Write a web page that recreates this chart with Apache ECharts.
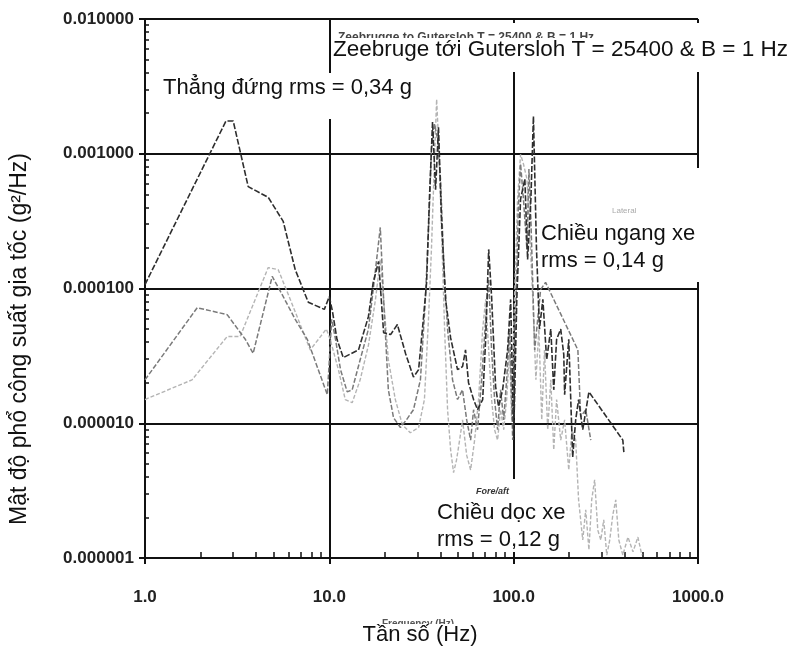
<!DOCTYPE html>
<html>
<head>
<meta charset="utf-8">
<script src="https://cdn.jsdelivr.net/npm/echarts@6/dist/echarts.min.js"></script>
<style>
html,body{margin:0;padding:0;background:#fff;}
#chart{width:792px;height:655px;}
</style>
</head>
<body>
<div id="chart"></div>
<script>
// ---- Data (frequency in Hz, PSD in g^2/Hz) ----
var vertFreq = [1.0,2.75,3.01,3.63,4.66,5.62,6.53,7.69,9.39,10.0,10.4,11.0,11.9,14.4,16.3,17.3,18.5,19.7,21.5,23.4,25.9,28.6,30.5,32.0,33.7,34.9,36.3,37.7,39.1,40.6,42.7,45.5,49.6,52.8,54.8,56.9,60.6,63.7,67.9,70.5,73.2,75.9,79.8,82.8,87.1,92.7,96.3,100,104,109,115,119,124,128,133,138,144,151,159,165,171,180,187,189,199,209,217,225,237,256,391,396];
var vertPsd = [1.07e-4,1.75e-3,1.75e-3,5.7e-4,4.75e-4,3.15e-4,1.38e-4,7.9e-5,7.0e-5,8.7e-5,6.75e-5,4.2e-5,3.07e-5,3.5e-5,6.2e-5,1.11e-4,1.59e-4,4.7e-5,4.55e-5,5.4e-5,3.3e-5,2.2e-5,2.5e-5,5.0e-5,1.11e-4,4.6e-4,1.72e-3,5.4e-4,1.57e-3,3.26e-4,8.3e-5,4.3e-5,2.5e-5,2.63e-5,3.5e-5,2.0e-5,1.5e-5,1.26e-5,1.5e-5,4.2e-5,1.95e-4,8.7e-5,1.87e-5,1.33e-5,1.77e-5,3.5e-5,8.3e-5,7.9e-6,8.3e-5,4.6e-4,6.5e-4,1.64e-4,4.6e-4,1.9e-3,1.95e-4,5.0e-5,8.3e-5,2.96e-5,5.0e-5,1.77e-5,4.2e-5,5.0e-5,3.23e-5,1.63e-5,4.2e-5,5.6e-6,1.06e-5,1.5e-5,8.95e-6,1.71e-5,7.5e-6,6.1e-6];

var latFreq = [1.0,1.92,2.79,3.50,3.86,4.90,5.55,6.53,7.59,9.75,10.3,10.8,11.5,12.5,13.3,14.7,16.3,17.3,18.9,19.7,20.9,22.3,24.3,26.2,28.6,31.2,33.2,34.9,35.8,37.2,38.6,40.1,41.7,43.8,46.6,49.6,52.8,55.6,58.4,60.6,63.7,67.0,70.5,73.2,75.9,78.8,81.8,84.9,88.3,91.6,95.1,98.8,103,106,109,113,118,121,124,130,135,140,149,223,231,246,262];
var latPsd = [2.1e-5,7.2e-5,6.4e-5,4.2e-5,3.3e-5,1.23e-4,9.0e-5,5.9e-5,4.2e-5,1.63e-5,5.9e-5,4.2e-5,2.5e-5,1.71e-5,1.77e-5,2.96e-5,5.0e-5,9.8e-5,2.84e-4,8.3e-5,1.77e-5,1.1e-5,9.3e-6,1.06e-5,1.26e-5,2.1e-5,8.3e-5,3.9e-4,1.08e-3,1.66e-3,1.3e-3,6.5e-4,1.64e-4,5.0e-5,2.1e-5,1.5e-5,1.77e-5,1.06e-5,7.5e-6,1.26e-5,8.95e-6,2.1e-5,5.9e-5,1.17e-4,3.5e-5,1.5e-5,8.95e-6,1.77e-5,1.06e-5,2.1e-5,5.0e-5,7.5e-6,8.3e-5,3.9e-4,8.4e-4,4.6e-4,1.95e-4,7.7e-4,3.26e-4,3.5e-5,5.9e-5,9.8e-5,1.11e-4,3.5e-5,1.12e-5,1.26e-5,7.5e-6];

var longFreq = [1.0,1.80,2.79,3.28,4.66,5.28,6.14,7.88,9.63,10.1,11.2,12.2,13.3,14.7,16.3,17.8,18.9,19.7,20.9,22.8,24.9,27.5,30.5,32.8,34.5,35.8,37.2,38.2,39.1,40.6,42.2,43.8,45.5,47.2,49.0,50.9,52.8,55.6,58.4,61.4,64.5,67.9,70.5,73.2,75.9,78.8,81.8,84.9,88.3,91.6,95.1,97.5,101,105,109,113,118,122,127,132,137,142,147,153,159,165,171,180,189,199,207,217,225,237,246,256,265,275,286,297,308,320,332,345,358,372,391,417,444,472,496];
var longPsd = [1.5e-5,2.1e-5,4.4e-5,4.4e-5,1.43e-4,1.38e-4,8.3e-5,3.5e-5,5.0e-5,4.2e-5,2.5e-5,1.5e-5,1.42e-5,2.1e-5,3.8e-5,8.3e-5,1.64e-4,8.3e-5,2.96e-5,1.5e-5,9.75e-6,8.5e-6,9.3e-6,1.5e-5,5.9e-5,1.95e-4,9.1e-4,2.54e-3,1.28e-3,2.75e-4,5.0e-5,1.26e-5,6.35e-6,4.3e-6,5.35e-6,7.5e-6,1.06e-5,5.8e-6,4.5e-6,7.5e-6,1.5e-5,5.0e-5,8.3e-5,3.5e-5,1.5e-5,8.95e-6,7.5e-6,1.26e-5,8.95e-6,1.5e-5,3.5e-5,1.06e-5,8.3e-5,4.6e-4,9.9e-4,8.4e-4,6.5e-4,2.75e-4,8.3e-5,2.1e-5,5.0e-5,1.06e-5,3.5e-5,8.95e-6,2.1e-5,6.35e-6,1.5e-5,7.5e-6,1.06e-5,4.5e-6,8.95e-6,7.5e-6,2.7e-6,1.36e-6,2.28e-6,1.15e-6,2.7e-6,3.8e-6,1.61e-6,1.36e-6,1.92e-6,1.05e-6,1.36e-6,2.09e-6,2.7e-6,1.36e-6,1.05e-6,1.43e-6,1.11e-6,1.43e-6,1.05e-6];

// ---- Axis ticks / texts ----
var xMajor = [1, 10, 100, 1000];
var xMinor = [2,3,4,5,6,7,8,9,20,30,40,50,60,70,80,90,200,300,400,500,600,700,800,900];
var yMajor = [1e-6, 1e-5, 1e-4, 1e-3, 1e-2];
var yMinor = [];
[1e-6,1e-5,1e-4,1e-3].forEach(function(b){ for (var k=2;k<=9;k++) yMinor.push(+(b*k).toPrecision(3)); });

var titleText = 'Zeebruge tới Gutersloh T = 25400 & B = 1 Hz';
var titleOld = 'Zeebrugge to Gutersloh T = 25400 & B = 1 Hz';
var vertLabel = 'Thẳng đứng rms = 0,34 g';
var latLabel1 = 'Chiều ngang xe', latLabel2 = 'rms = 0,14 g', latOld = 'Lateral';
var longLabel1 = 'Chiều dọc xe', longLabel2 = 'rms = 0,12 g', longOld = 'Fore/aft';
var xTitle = 'Tần số (Hz)', xTitleOld = 'Frequency (Hz)';
var yTitle = 'Mật độ phổ công suất gia tốc (g²/Hz)';

function pairs(f, v){ return f.map(function(x,i){ return [x, v[i]]; }); }

var FONT = '"Liberation Sans", Arial, sans-serif';
var axisColor = '#111';

var chart = echarts.init(document.getElementById('chart'), null, {renderer:'canvas'});
chart.setOption({
  animation: false,
  backgroundColor: '#fff',
  grid: { left: 145, right: 94, top: 19, bottom: 97 },
  xAxis: [
    { type:'log', logBase:10, min:1, max:1000,
      axisLine:{ show:true, lineStyle:{ color:axisColor, width:2 } },
      axisTick:{ show:true, inside:true, length:6, customValues:xMinor, lineStyle:{ color:axisColor, width:1.5 } },
      axisLabel:{ show:true, customValues:xMajor, margin:31, color:'#222', fontFamily:FONT, fontWeight:'bold', fontSize:17,
        formatter:function(v){ return Number(v).toFixed(1); } },
      splitLine:{ show:false }
    },
    { type:'log', logBase:10, min:1, max:1000, position:'bottom', offset:0,
      axisLine:{ show:false },
      axisTick:{ show:true, inside:false, length:6, customValues:xMajor, lineStyle:{ color:axisColor, width:2 } },
      axisLabel:{ show:false },
      splitLine:{ show:true, lineStyle:{ color:axisColor, width:2 } }
    }
  ],
  yAxis: [
    { type:'log', logBase:10, min:1e-6, max:1e-2,
      axisLine:{ show:true, lineStyle:{ color:axisColor, width:2 } },
      axisTick:{ show:true, inside:true, length:4, customValues:yMinor, lineStyle:{ color:axisColor, width:1.5 } },
      axisLabel:{ show:true, customValues:yMajor, margin:11, color:'#222', fontFamily:FONT, fontWeight:'bold', fontSize:17,
        formatter:function(v){ return Number(v).toFixed(6); } },
      splitLine:{ show:false }
    },
    { type:'log', logBase:10, min:1e-6, max:1e-2, position:'left', offset:0,
      axisLine:{ show:false },
      axisTick:{ show:true, inside:false, length:6, customValues:yMajor, lineStyle:{ color:axisColor, width:2 } },
      axisLabel:{ show:false },
      splitLine:{ show:true, lineStyle:{ color:axisColor, width:2 } }
    }
  ],
  series: [
    { name:'Chiều dọc xe', type:'line', xAxisIndex:0, yAxisIndex:0, data:pairs(longFreq,longPsd),
      showSymbol:false, lineStyle:{ color:'#b4b4b4', width:1.4, type:[4,2] }, z:2 },
    { name:'Chiều ngang xe', type:'line', xAxisIndex:0, yAxisIndex:0, data:pairs(latFreq,latPsd),
      showSymbol:false, lineStyle:{ color:'#7a7a7a', width:1.5, type:[5,2] }, z:3 },
    { name:'Thẳng đứng', type:'line', xAxisIndex:0, yAxisIndex:0, data:pairs(vertFreq,vertPsd),
      showSymbol:false, lineStyle:{ color:'#2e2e2e', width:1.6, type:[6,2] }, z:4 }
  ],
  graphic: [
    // title block
    { type:'rect', z:100, shape:{ x:331, y:23, width:461, height:49 }, style:{ fill:'#fff' } },
    { type:'text', z:101, x:338, y:32, style:{ text:titleOld, font:'bold 12px '+FONT, fill:'#444', verticalAlign:'top' } },
    { type:'rect', z:102, shape:{ x:331, y:38, width:461, height:34 }, style:{ fill:'#fff' } },
    { type:'text', z:103, x:333, y:38, style:{ text:titleText, font:'22.5px '+FONT, fill:'#111', verticalAlign:'top' } },
    // vertical label
    { type:'rect', z:100, shape:{ x:158, y:73, width:268, height:46 }, style:{ fill:'#fff' } },
    { type:'text', z:102, x:163, y:77, style:{ text:vertLabel, font:'22px '+FONT, fill:'#111', verticalAlign:'top' } },
    // lateral label
    { type:'rect', z:100, shape:{ x:540, y:168, width:165, height:114 }, style:{ fill:'#fff' } },
    { type:'text', z:101, x:612, y:207, style:{ text:latOld, font:'8px '+FONT, fill:'#aaa', verticalAlign:'top' } },
    { type:'text', z:102, x:541, y:223, style:{ text:latLabel1, font:'22px '+FONT, fill:'#111', verticalAlign:'top' } },
    { type:'text', z:102, x:541, y:250, style:{ text:latLabel2, font:'22px '+FONT, fill:'#111', verticalAlign:'top' } },
    // longitudinal label
    { type:'rect', z:100, shape:{ x:434, y:479, width:142, height:73 }, style:{ fill:'#fff' } },
    { type:'text', z:101, x:476, y:487, style:{ text:longOld, font:'italic bold 9px '+FONT, fill:'#333', verticalAlign:'top' } },
    { type:'text', z:102, x:437, y:502, style:{ text:longLabel1, font:'22px '+FONT, fill:'#111', verticalAlign:'top' } },
    { type:'text', z:102, x:437, y:529, style:{ text:longLabel2, font:'22px '+FONT, fill:'#111', verticalAlign:'top' } },
    // x axis title
    { type:'text', z:101, x:418, y:619, style:{ text:xTitleOld, font:'bold 10px '+FONT, fill:'#555', align:'center', verticalAlign:'top' } },
    { type:'rect', z:102, shape:{ x:355, y:624, width:130, height:31 }, style:{ fill:'#fff' } },
    { type:'text', z:103, x:420, y:624, style:{ text:xTitle, font:'22px '+FONT, fill:'#111', align:'center', verticalAlign:'top' } },
    // y axis title
    { type:'text', z:102, x:20, y:339, rotation:Math.PI/2, style:{ text:yTitle, font:'23px '+FONT, fill:'#111', align:'center', verticalAlign:'middle' } }
  ]
});
</script>
</body>
</html>
